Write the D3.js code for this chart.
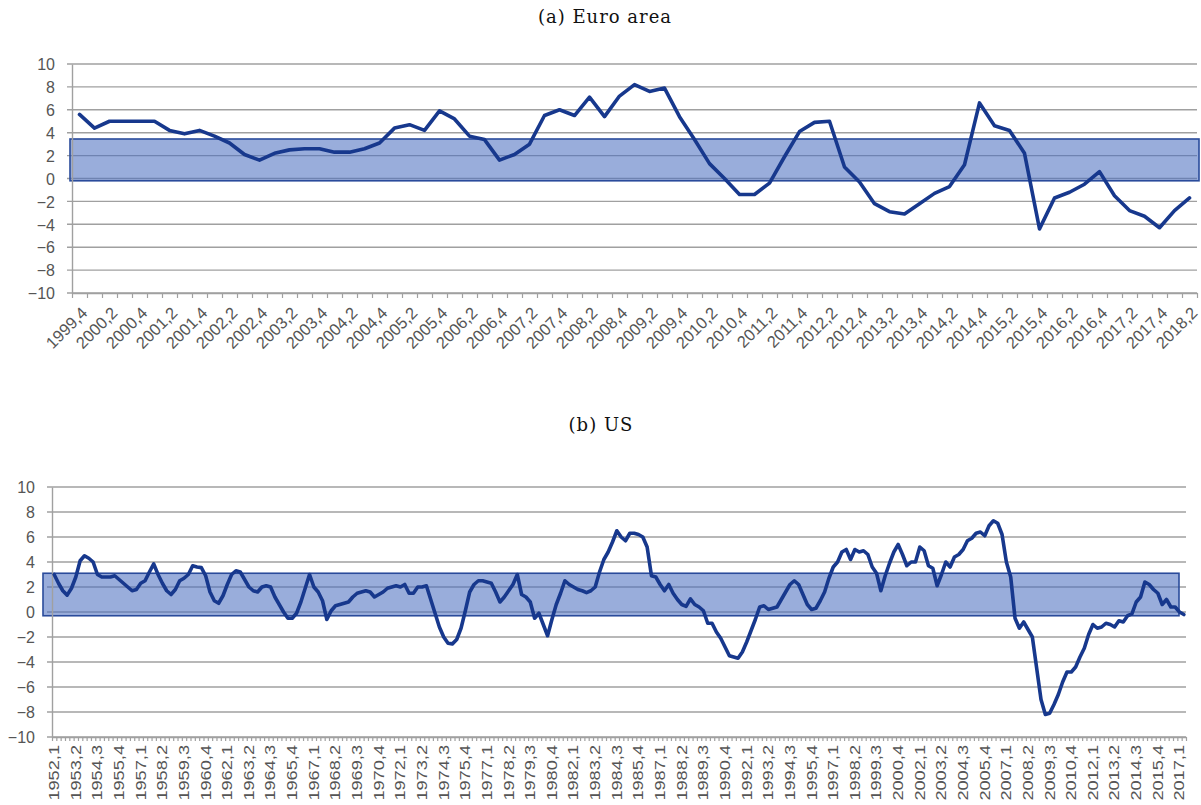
<!DOCTYPE html>
<html>
<head>
<meta charset="utf-8">
<script src="https://cdn.jsdelivr.net/npm/d3@7"></script>
<style>
  body { margin: 0; background: #ffffff; }
  svg { display: block; }
  .title { font-family: "DejaVu Serif", "Liberation Serif", serif; font-size: 18px; letter-spacing: 1px; fill: #111; }
  .ylab text { font-family: "Liberation Sans", Arial, sans-serif; font-size: 16px; fill: #555; }
  .xlab text { font-family: "Liberation Sans", Arial, sans-serif; fill: #555; }
</style>
</head>
<body>
<svg id="chart" width="1201" height="805"></svg>
<script>
// ---- data ----------------------------------------------------------------
const yTicks = [-10, -8, -6, -4, -2, 0, 2, 4, 6, 8, 10];

// Euro area, 1999Q4 - 2018Q2
const euroStart = [1999, 4];
const euroValues = [
  5.6, 4.4, 5.0, 5.0, 5.0, 5.0, 4.2, 3.9, 4.2, 3.7,
  3.1, 2.1, 1.6, 2.2, 2.5, 2.6, 2.6, 2.3, 2.3, 2.6,
  3.1, 4.4, 4.7, 4.2, 5.9, 5.2, 3.7, 3.4, 1.6, 2.1,
  3.0, 5.5, 6.0, 5.5, 7.1, 5.4, 7.2, 8.2, 7.6, 7.9,
  5.4, 3.4, 1.3, 0.0, -1.4, -1.4, -0.4, 1.9, 4.1, 4.9,
  5.0, 1.0, -0.3, -2.2, -2.9, -3.1, -2.2, -1.3, -0.7, 1.2,
  6.6, 4.6, 4.2, 2.2, -4.4, -1.7, -1.2, -0.5, 0.6, -1.5,
  -2.8, -3.3, -4.3, -2.8, -1.7
];
const euroTickLabels = [
  "1999,4", "2000,2", "2000,4", "2001,2", "2001,4", "2002,2", "2002,4", "2003,2",
  "2003,4", "2004,2", "2004,4", "2005,2", "2005,4", "2006,2", "2006,4", "2007,2",
  "2007,4", "2008,2", "2008,4", "2009,2", "2009,4", "2010,2", "2010,4", "2011,2",
  "2011,4", "2012,2", "2012,4", "2013,2", "2013,4", "2014,2", "2014,4", "2015,2",
  "2015,4", "2016,2", "2016,4", "2017,2", "2017,4", "2018,2"
];
const euroBand = [-0.2, 3.45];

// US, 1952Q1 - 2017Q2
const usStart = [1952, 1];
const usValues = [
  3.0, 2.3, 1.7, 1.35, 1.9, 2.8, 4.1, 4.5, 4.3, 4.0,
  3.0, 2.8, 2.8, 2.8, 2.9, 2.6, 2.3, 2.0, 1.7, 1.8,
  2.3, 2.5, 3.2, 3.85, 3.0, 2.3, 1.7, 1.4, 1.8, 2.5,
  2.7, 3.0, 3.7, 3.6, 3.55, 2.9, 1.6, 0.9, 0.7, 1.3,
  2.2, 3.0, 3.3, 3.2, 2.6, 2.0, 1.7, 1.6, 2.0, 2.1,
  2.0, 1.2, 0.6, 0.0, -0.5, -0.5, -0.1, 0.8, 1.9, 3.0,
  2.0, 1.6, 0.9, -0.6, 0.1, 0.5, 0.6, 0.7, 0.8, 1.2,
  1.5, 1.6, 1.7, 1.6, 1.2, 1.4, 1.6, 1.9, 2.0, 2.1,
  2.0, 2.2, 1.5, 1.5, 2.0, 2.0, 2.1, 1.0, -0.1, -1.2,
  -2.0, -2.5, -2.55, -2.2, -1.3, 0.1, 1.6, 2.2, 2.5, 2.5,
  2.4, 2.3, 1.6, 0.8, 1.2, 1.7, 2.2, 3.0, 1.4, 1.2,
  0.8, -0.5, -0.1, -1.0, -1.9, -0.6, 0.6, 1.5, 2.5, 2.2,
  2.0, 1.8, 1.7, 1.55, 1.7, 2.0, 3.2, 4.2, 4.8, 5.6,
  6.5, 6.0, 5.7, 6.3, 6.3, 6.2, 6.0, 5.2, 2.9, 2.8,
  2.2, 1.7, 2.2, 1.5, 1.0, 0.6, 0.45, 1.05, 0.6, 0.4,
  0.1, -0.9, -0.9, -1.6, -2.1, -2.8, -3.5, -3.6, -3.7, -3.2,
  -2.4, -1.5, -0.6, 0.4, 0.5, 0.2, 0.3, 0.4, 1.0, 1.6,
  2.2, 2.5, 2.2, 1.4, 0.6, 0.2, 0.3, 0.9, 1.6, 2.7,
  3.6, 4.0, 4.8, 5.0, 4.2, 5.0, 4.8, 4.9, 4.6, 3.6,
  3.1, 1.7, 2.9, 3.9, 4.8, 5.4, 4.6, 3.7, 4.0, 4.0,
  5.2, 4.9, 3.7, 3.5, 2.1, 3.0, 4.0, 3.6, 4.4, 4.6,
  5.0, 5.7, 5.9, 6.3, 6.4, 6.1, 6.9, 7.3, 7.1, 6.2,
  4.0, 2.8, -0.5, -1.3, -0.8, -1.4, -2.0, -4.5, -7.0, -8.2,
  -8.1, -7.4, -6.6, -5.6, -4.8, -4.8, -4.4, -3.6, -2.9, -1.8,
  -1.0, -1.3, -1.2, -0.9, -1.0, -1.2, -0.7, -0.8, -0.3, -0.15,
  0.8, 1.2, 2.4, 2.2, 1.8, 1.5, 0.6, 1.0, 0.4, 0.4,
  0.0, -0.2
];
const usTickLabels = [
  "1952,1", "1953,2", "1954,3", "1955,4", "1957,1", "1958,2", "1959,3", "1960,4",
  "1962,1", "1963,2", "1964,3", "1965,4", "1967,1", "1968,2", "1969,3", "1970,4",
  "1972,1", "1973,2", "1974,3", "1975,4", "1977,1", "1978,2", "1979,3", "1980,4",
  "1982,1", "1983,2", "1984,3", "1985,4", "1987,1", "1988,2", "1989,3", "1990,4",
  "1992,1", "1993,2", "1994,3", "1995,4", "1997,1", "1998,2", "1999,3", "2000,4",
  "2002,1", "2003,2", "2004,3", "2005,4", "2007,1", "2008,2", "2009,3", "2010,4",
  "2012,1", "2013,2", "2014,3", "2015,4", "2017,1"
];
const usBand = [-0.3, 3.1];

// quarter labels "YYYY,Q" for a run of consecutive quarters
function quarterLabels(start, count) {
  const out = [];
  let [yr, q] = start;
  for (let i = 0; i < count; i++) {
    out.push(yr + "," + q);
    q += 1;
    if (q > 4) { q = 1; yr += 1; }
  }
  return out;
}

const euroCategories = quarterLabels(euroStart, euroValues.length);
const usCategories = quarterLabels(usStart, usValues.length);

// ---- drawing ---------------------------------------------------------------
const svg = d3.select("#chart");
const GRID = "#a0a0a0";
const LINE = "#17388d";

function drawPanel(cfg) {
  const { categories, values, tickLabels, band, box, title, titleY, labelStyle, bandPad } = cfg;
  const g = svg.append("g");

  const x = d3.scaleBand().domain(categories).range([box.left, box.right]).padding(0);
  const xEdge = d3.scaleLinear().domain([0, categories.length]).range([box.left, box.right]);
  const y = d3.scaleLinear().domain([-10, 10]).range([box.bottom, box.top]);

  // title
  g.append("text").attr("class", "title")
    .attr("x", cfg.titleX).attr("y", titleY)
    .attr("text-anchor", "middle").text(title);

  // horizontal gridlines (with short outer tick on the left)
  g.append("g").selectAll("line").data(yTicks).join("line")
    .attr("x1", box.left - 5).attr("x2", box.right)
    .attr("y1", d => y(d)).attr("y2", d => y(d))
    .attr("stroke", GRID).attr("stroke-width", 1.4);

  // shaded range band
  g.append("rect")
    .attr("x", box.left + bandPad[0])
    .attr("width", (box.right + bandPad[1]) - (box.left + bandPad[0]))
    .attr("y", y(band[1]))
    .attr("height", y(band[0]) - y(band[1]))
    .attr("fill", "#4a6cbf").attr("fill-opacity", 0.56)
    .attr("stroke", "#2a4b9b").attr("stroke-width", 1.6);

  // y axis
  const yAxis = g.append("g").attr("class", "ylab")
    .attr("transform", `translate(${box.left},0)`)
    .call(d3.axisLeft(y).tickValues(yTicks).tickSize(0).tickPadding(17));
  yAxis.select(".domain").attr("stroke", GRID).attr("stroke-width", 1.4);
  yAxis.selectAll(".tick text").attr("dy", "0.36em");

  // x axis: one tick per category boundary
  const xTicks = g.append("g")
    .attr("transform", `translate(0,${box.bottom})`)
    .call(d3.axisBottom(xEdge).tickValues(d3.range(categories.length + 1))
      .tickFormat("").tickSizeInner(cfg.tickLen).tickSizeOuter(0));
  xTicks.select(".domain").attr("stroke", GRID).attr("stroke-width", 1.4);
  xTicks.selectAll(".tick line").attr("stroke", GRID).attr("stroke-width", 1.2);

  // x labels
  const xLab = g.append("g").attr("class", "xlab")
    .attr("transform", `translate(0,${box.bottom})`)
    .call(d3.axisBottom(x).tickValues(tickLabels).tickSize(0));
  xLab.select(".domain").remove();
  if (labelStyle === "diag") {
    xLab.selectAll(".tick text")
      .style("font-size", "16.5px")
      .attr("text-anchor", "end")
      .attr("x", 0).attr("y", 0).attr("dy", "0")
      .attr("transform", "translate(9,21) rotate(-45)");
  } else {
    // vertical labels, slightly elongated along the reading direction
    xLab.selectAll(".tick text")
      .style("font-size", "14px")
      .attr("text-anchor", "end")
      .attr("x", 0).attr("y", 0).attr("dy", "0.35em")
      .attr("transform", "translate(0,8) rotate(-90) scale(1.3,1)");
  }

  // series line
  const line = d3.line()
    .x((d, i) => x(categories[i]) + x.bandwidth() / 2)
    .y(d => y(d));
  g.append("path").datum(values)
    .attr("d", line)
    .attr("fill", "none")
    .attr("stroke", LINE).attr("stroke-width", 3.6)
    .attr("stroke-linejoin", "round").attr("stroke-linecap", "round");
}

drawPanel({
  categories: euroCategories, values: euroValues, tickLabels: euroTickLabels,
  band: euroBand, title: "(a) Euro area", titleX: 605, titleY: 23,
  box: { left: 72, right: 1197, top: 64, bottom: 293 },
  labelStyle: "diag", tickLen: 5, bandPad: [-2, 2]
});

drawPanel({
  categories: usCategories, values: usValues, tickLabels: usTickLabels,
  band: usBand, title: "(b) US", titleX: 601, titleY: 431,
  box: { left: 52, right: 1186, top: 487, bottom: 737 },
  labelStyle: "vert", tickLen: 4, bandPad: [-9, -7]
});
</script>
</body>
</html>
